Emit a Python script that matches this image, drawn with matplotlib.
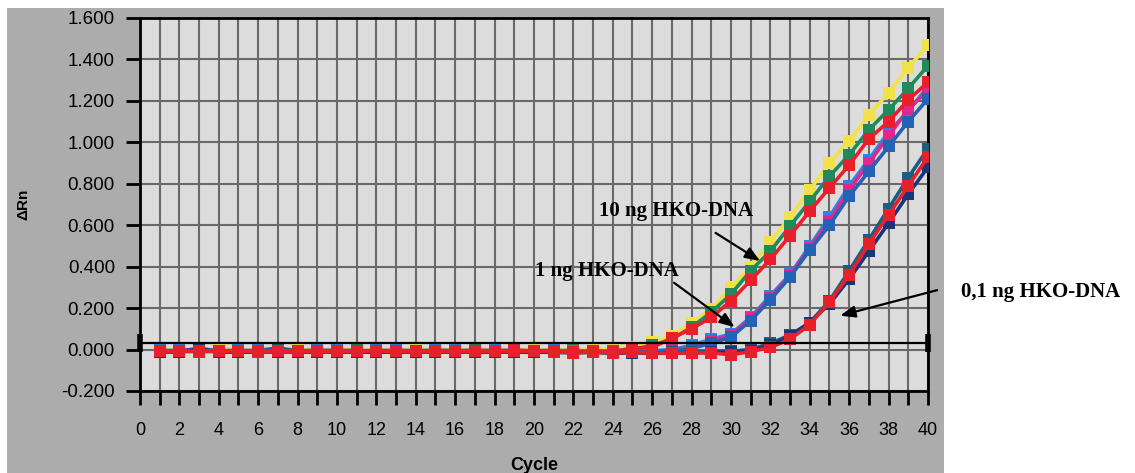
import numpy as np
import matplotlib
matplotlib.use("Agg")
import matplotlib.pyplot as plt
from matplotlib.patches import Rectangle
from matplotlib.ticker import MultipleLocator, FuncFormatter

cycles = np.arange(1, 41)

# 10 ng HKO-DNA
yellow_10 = [0.000, -0.005, 0.000, 0.004, 0.000, -0.004, 0.002, 0.004, 0.000, 0.001,
             -0.004, 0.000, 0.004, 0.000, 0.001, -0.004, 0.000, 0.004, 0.000, 0.001,
             -0.004, 0.000, 0.004, 0.002, 0.012, 0.035, 0.065, 0.130, 0.195, 0.300,
             0.400, 0.520, 0.640, 0.770, 0.900, 1.005, 1.130, 1.240, 1.360, 1.470]
green_10 = [-0.008, -0.006, -0.004, -0.006, -0.012, -0.004, 0.008, -0.006, -0.004, -0.006,
            -0.004, -0.012, -0.004, -0.006, -0.004, -0.006, -0.004, -0.006, -0.008, -0.012,
            -0.006, -0.004, -0.008, -0.006, 0.000, 0.020, 0.050, 0.108, 0.180, 0.267,
            0.380, 0.475, 0.596, 0.716, 0.836, 0.940, 1.060, 1.157, 1.260, 1.370]
red_10 = [-0.006, -0.006, -0.008, -0.005, -0.006, -0.008, -0.006, -0.006, -0.006, -0.005,
          -0.006, -0.006, -0.006, -0.006, -0.006, -0.006, -0.005, -0.006, -0.004, -0.006,
          -0.005, -0.018, -0.008, -0.012, 0.008, 0.010, 0.055, 0.100, 0.155, 0.235,
          0.334, 0.435, 0.550, 0.668, 0.780, 0.890, 1.017, 1.100, 1.205, 1.290]

# 1 ng HKO-DNA
lblue_1 = [-0.004, -0.004, -0.002, -0.006, -0.004, -0.004, -0.004, -0.006, -0.004, -0.004,
           -0.006, -0.004, -0.004, -0.006, -0.004, -0.004, -0.006, -0.004, -0.004, -0.006,
           -0.004, -0.008, -0.006, -0.010, -0.008, -0.006, 0.000, 0.020, 0.050, 0.075,
           0.156, 0.260, 0.363, 0.500, 0.640, 0.790, 0.917, 1.050, 1.150, 1.270]
pink_1 = [-0.006, -0.006, -0.004, -0.006, -0.006, -0.006, -0.006, -0.006, -0.006, -0.006,
          -0.006, -0.006, -0.006, -0.006, -0.006, -0.006, -0.006, -0.006, -0.006, -0.006,
          -0.006, -0.010, -0.008, -0.012, -0.010, -0.008, -0.004, 0.012, 0.040, 0.070,
          0.150, 0.250, 0.360, 0.490, 0.620, 0.770, 0.900, 1.030, 1.160, 1.250]
mblue_1 = [-0.008, -0.008, 0.006, -0.008, -0.008, -0.008, -0.008, -0.008, -0.008, -0.008,
           -0.008, -0.008, -0.008, -0.008, -0.008, -0.008, -0.008, -0.008, -0.008, -0.008,
           -0.008, -0.012, -0.010, -0.014, -0.012, -0.012, -0.008, 0.005, 0.030, 0.060,
           0.140, 0.240, 0.350, 0.480, 0.600, 0.740, 0.860, 0.980, 1.100, 1.210]

# 0,1 ng HKO-DNA
teal_01 = [-0.010, -0.010, -0.008, -0.010, -0.014, -0.010, 0.006, -0.010, -0.010, -0.010,
           -0.010, -0.014, -0.010, -0.010, -0.010, -0.010, -0.010, -0.010, -0.012, -0.014,
           -0.010, -0.012, -0.012, -0.014, -0.014, -0.016, -0.014, -0.012, -0.010, -0.008,
           0.000, 0.030, 0.070, 0.130, 0.235, 0.380, 0.530, 0.680, 0.830, 0.970]
red_01 = [-0.008, -0.008, -0.010, -0.008, -0.008, -0.010, -0.008, -0.008, -0.008, -0.008,
          -0.008, -0.008, -0.008, -0.008, -0.008, -0.008, -0.008, -0.008, -0.008, -0.008,
          -0.010, -0.014, -0.012, -0.016, -0.014, -0.016, -0.018, -0.016, -0.016, -0.025,
          -0.010, 0.010, 0.050, 0.120, 0.230, 0.360, 0.510, 0.650, 0.790, 0.930]
navy_01 = [-0.012, -0.012, 0.004, -0.012, -0.012, -0.012, -0.012, -0.012, -0.012, -0.012,
           -0.012, -0.012, -0.012, -0.012, -0.012, -0.012, -0.012, -0.012, -0.012, -0.012,
           -0.014, -0.016, -0.014, -0.018, -0.016, -0.018, -0.018, -0.016, -0.014, -0.012,
           -0.005, 0.020, 0.065, 0.130, 0.220, 0.340, 0.475, 0.610, 0.750, 0.880]

threshold = 0.03

series = [
    (yellow_10, "#f2e24a"),
    (green_10, "#1f8a5c"),
    (lblue_1, "#2a86e0"),
    (pink_1, "#e0288c"),
    (mblue_1, "#2462b4"),
    (teal_01, "#1b5e80"),
    (navy_01, "#1c3478"),
    (red_10, "#e8202c"),
    (red_01, "#e8202c"),
]

fig = plt.figure(figsize=(11.35, 4.73), dpi=100)
fig.patch.set_facecolor("white")
fig.patches.append(Rectangle((0.006, 0.0), 0.826, 0.983, transform=fig.transFigure,
                             facecolor="#acacac", edgecolor="none", zorder=-10))

ax = fig.add_axes([0.1233, 0.1734, 0.6943, 0.7886])
ax.set_facecolor("#dcdcdc")

for vals, col in series:
    ax.plot(cycles, vals, color=col, lw=2.6, marker="s", markersize=8.5,
            markeredgewidth=0, zorder=3)

ax.axhline(threshold, color="black", lw=1.6, zorder=4)
ax.plot([0, 40], [threshold, threshold], ls="none", marker="|", markersize=13,
        markeredgewidth=4, color="black", clip_on=False, zorder=5)

ax.set_xlim(0, 40)
ax.set_ylim(-0.2, 1.6)
ax.xaxis.set_major_locator(MultipleLocator(2))
ax.xaxis.set_minor_locator(MultipleLocator(1))
ax.yaxis.set_major_locator(MultipleLocator(0.2))
ax.yaxis.set_major_formatter(FuncFormatter(lambda v, p: "%.3f" % v))
ax.grid(True, which="both", axis="x", color="#696969", lw=1.5)
ax.grid(True, which="major", axis="y", color="#696969", lw=1.5)
ax.set_axisbelow(True)

for s in ax.spines.values():
    s.set_linewidth(2)
    s.set_color("black")

ax.tick_params(axis="x", which="both", direction="out", length=10, width=2, pad=12,
               labelsize=13, colors="black")
ax.tick_params(axis="y", direction="out", length=10, width=2, pad=8, labelsize=13.5)
for lab in ax.get_xticklabels() + ax.get_yticklabels():
    lab.set_fontfamily("Liberation Sans")

ax.set_xlabel("Cycle", fontsize=13, fontweight="bold", family="Liberation Sans", labelpad=13)
ax.set_ylabel("ΔRn", fontsize=11, fontweight="bold", family="Liberation Sans", labelpad=22)

lbl = dict(fontsize=15, fontweight="bold", family="Liberation Serif", ha="center", va="center")
arr = dict(arrowstyle="-|>,head_length=0.9,head_width=0.35", color="black", lw=1.6)

ax.text(27.2, 0.667, "10 ng HKO-DNA", **lbl)
ax.annotate("", xy=(31.6, 0.42), xytext=(29.1, 0.57), arrowprops=arr)
ax.text(23.7, 0.378, "1 ng HKO-DNA", **lbl)
ax.annotate("", xy=(30.3, 0.10), xytext=(27.0, 0.33), arrowprops=arr)
ax.text(45.7, 0.277, "0,1 ng HKO-DNA", clip_on=False, **lbl)
ax.annotate("", xy=(35.4, 0.16), xytext=(40.6, 0.29), arrowprops=arr, annotation_clip=False)

fig.savefig("out.png", dpi=100, facecolor=fig.get_facecolor())
